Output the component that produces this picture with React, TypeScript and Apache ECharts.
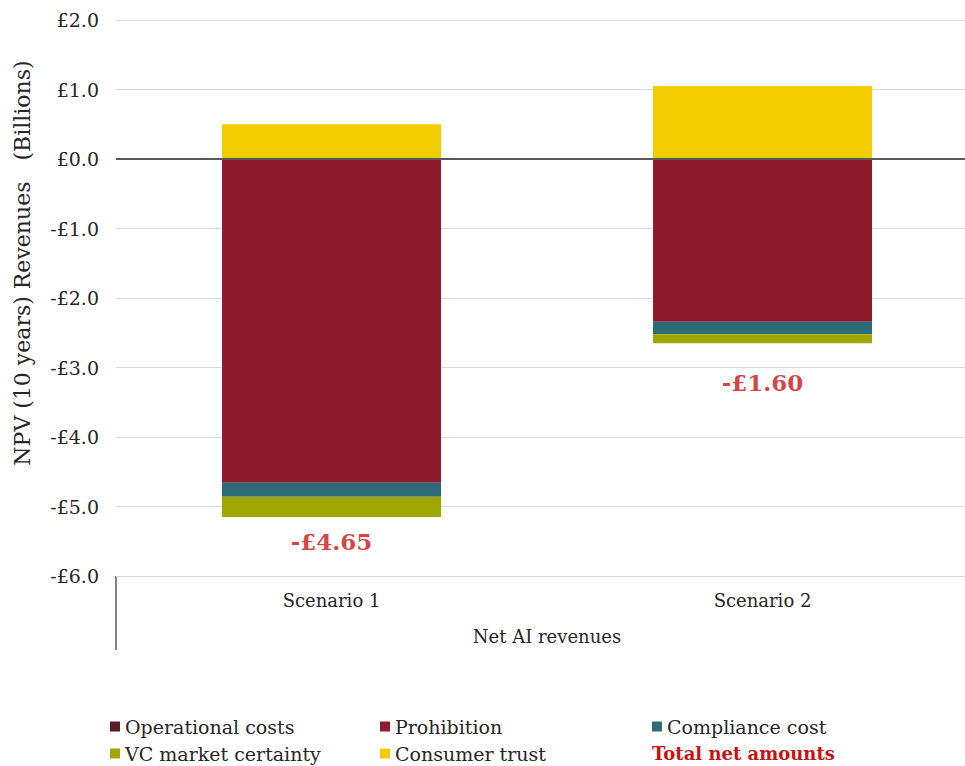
import React, { useEffect, useRef } from "react";
import * as echarts from "echarts";

const categories = ["Scenario 1", "Scenario 2"];
const operationalCosts = [0, 0];
const prohibition = [-4.66, -2.34];
const complianceCost = [-0.2, -0.18];
const vcMarketCertainty = [-0.29, -0.13];
const consumerTrust = [0.5, 1.05];
const totalNetAmounts = [-4.65, -1.6];
const totalLabelOffsets = [59, 112];
const yTicks = { min: -6, max: 2, interval: 1 };

const SERIF = "'DejaVu Serif', 'Liberation Serif', serif";
const RED = "#cc1010";

export default function App() {
  const ref = useRef<HTMLDivElement>(null);
  useEffect(() => {
    if (!ref.current) return;
    const chart = echarts.init(ref.current, null, { renderer: "svg" });
    const legendText = { fontFamily: SERIF, fontSize: 19, lineHeight: 19, color: "#262626" };
    const legendBase = {
      orient: "vertical" as const,
      top: 717,
      itemGap: 8,
      itemWidth: 10,
      itemHeight: 10,
      padding: 0,
      icon: "rect",
      textStyle: legendText,
      selectedMode: false,
    };
    chart.setOption({
      animation: false,
      grid: { left: 116, top: 20, width: 862, height: 556 },
      xAxis: {
        type: "category",
        data: categories,
        axisLine: { show: false, onZero: false },
        axisTick: { show: false },
        axisLabel: { fontFamily: SERIF, fontSize: 18, color: "#262626", margin: 15 },
        name: "Net AI revenues",
        nameLocation: "middle",
        nameGap: 51,
        nameTextStyle: { fontFamily: SERIF, fontSize: 18, color: "#262626" },
      },
      yAxis: {
        type: "value",
        min: yTicks.min,
        max: yTicks.max,
        interval: yTicks.interval,
        axisLine: { show: false },
        axisTick: { show: false },
        splitLine: { lineStyle: { color: "#d9d9d9", width: 1 } },
        axisLabel: {
          fontFamily: SERIF,
          fontSize: 19,
          color: "#262626",
          margin: 17,
          formatter: (v: number) => (v < 0 ? "-£" : "£") + Math.abs(v).toFixed(1),
        },
      },
      legend: [
        { ...legendBase, left: 110, data: ["Operational costs", "VC market certainty"] },
        { ...legendBase, left: 380, data: ["Prohibition", "Consumer trust"] },
        { ...legendBase, left: 652, data: ["Compliance cost"] },
        {
          ...legendBase,
          top: 744,
          left: 647,
          itemWidth: 0,
          data: [
            {
              name: "Total net amounts",
              icon: "none",
              textStyle: { fontFamily: SERIF, fontSize: 18, lineHeight: 19, fontWeight: "bold", color: RED },
            },
          ],
        },
      ],
      graphic: [
        {
          type: "text",
          x: 22,
          y: 263,
          rotation: Math.PI / 2,
          style: {
            text: "NPV (10 years) Revenues   (Billions)",
            fontFamily: SERIF,
            fontSize: 22,
            fill: "#262626",
            align: "center",
            verticalAlign: "middle",
          },
        },
        {
          type: "line",
          shape: { x1: 116, y1: 576, x2: 116, y2: 650 },
          style: { stroke: "#595959", lineWidth: 1.5 },
        },
      ],
      series: [
        {
          name: "Operational costs",
          type: "bar",
          stack: "s",
          barWidth: 219,
          data: operationalCosts,
          itemStyle: { color: "#5c1a22" },
          markLine: {
            silent: true,
            symbol: "none",
            label: { show: false },
            lineStyle: { color: "#595959", width: 2, type: "solid" },
            data: [{ yAxis: 0 }],
          },
          z: 3,
        },
        { name: "Prohibition", type: "bar", stack: "s", data: prohibition, itemStyle: { color: "#8f1b2e" } },
        { name: "Compliance cost", type: "bar", stack: "s", data: complianceCost, itemStyle: { color: "#2e6b78" } },
        { name: "VC market certainty", type: "bar", stack: "s", data: vcMarketCertainty, itemStyle: { color: "#a0a600" } },
        { name: "Consumer trust", type: "bar", stack: "s", data: consumerTrust, itemStyle: { color: "#f0cc00" } },
        {
          name: "Total net amounts",
          type: "scatter",
          symbolSize: 0,
          data: totalNetAmounts.map((v, i) => ({
            value: v,
            label: { offset: [0, totalLabelOffsets[i]] },
          })),
          itemStyle: { color: RED },
          label: {
            show: true,
            position: "inside",
            fontFamily: SERIF,
            fontSize: 23,
            fontWeight: "bold",
            color: RED,
            formatter: (p: any) => (p.value < 0 ? "-£" : "£") + Math.abs(p.value).toFixed(2),
          },
          z: 5,
        },
      ],
    });
    return () => chart.dispose();
  }, []);
  return (
    <div style={{ position: "absolute", left: 0, top: 0, width: 965, height: 766, overflow: "hidden", background: "#fff" }}>
      <div ref={ref} style={{ width: 990, height: 766 }} />
    </div>
  );
}
